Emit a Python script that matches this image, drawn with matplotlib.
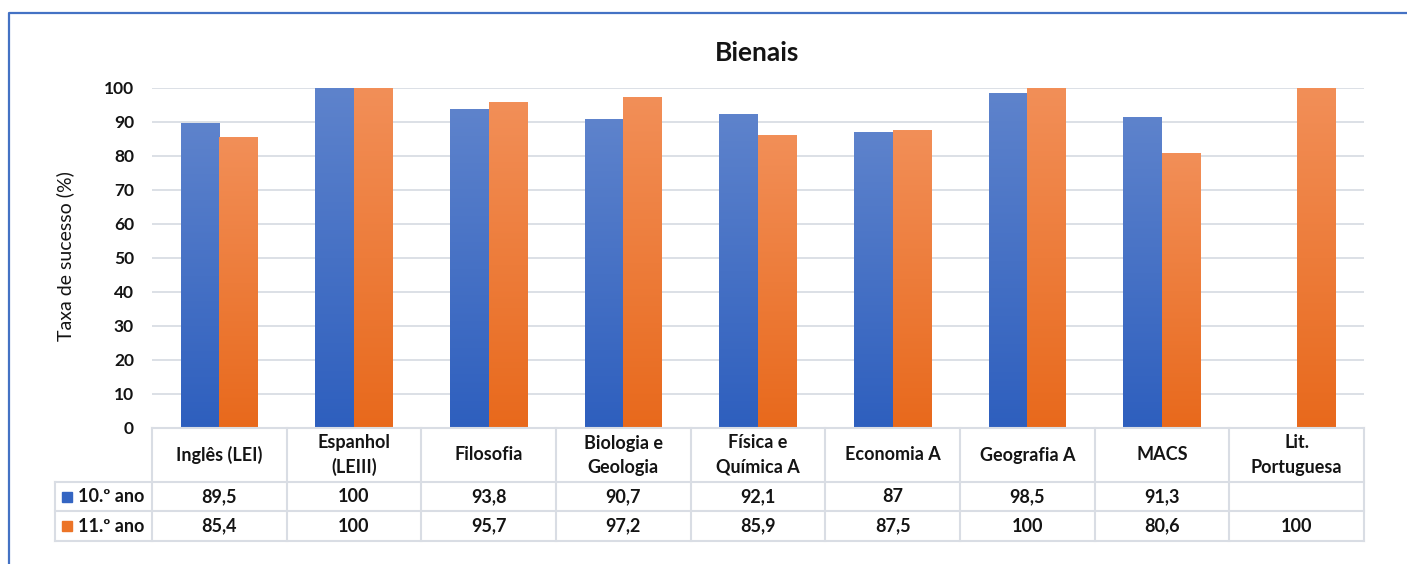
import numpy as np
import matplotlib.pyplot as plt
from matplotlib.colors import LinearSegmentedColormap
from matplotlib.lines import Line2D

plt.rcParams['font.family'] = ['Lato', 'DejaVu Sans']

disciplinas = ['Inglês (LEI)', 'Espanhol\n(LEIII)', 'Filosofia', 'Biologia e\nGeologia',
               'Física e\nQuímica A', 'Economia A', 'Geografia A', 'MACS', 'Lit.\nPortuguesa']
ano10 = [89.5, 100, 93.8, 90.7, 92.1, 87, 98.5, 91.3, None]
ano11 = [85.4, 100, 95.7, 97.2, 85.9, 87.5, 100, 80.6, 100]
series = ['10.º ano', '11.º ano']
yticks = list(range(0, 101, 10))

W, H = 1407, 564
fig = plt.figure(figsize=(W / 100, H / 100), dpi=100)


def box(x0, y0, x1, y1):
    # pixel box (top-left origin) -> figure fraction rect
    return [x0 / W, 1 - y1 / H, (x1 - x0) / W, (y1 - y0) / H]


def fmt(v):
    if v is None:
        return ''
    if v == int(v):
        return str(int(v))
    return f'{v:.1f}'.replace('.', ',')


blue = LinearSegmentedColormap.from_list('b', ['#2e5fbe', '#5e83cc'])
orange = LinearSegmentedColormap.from_list('o', ['#e8691c', '#f28f58'])
solid = ['#3465c2', '#ec7427']
grid_c = '#d9dde4'
txt_c = '#141414'
fs = 13

ax = fig.add_axes(box(152, 88, 1364, 428))
n = len(disciplinas)
w = 0.286
grad = np.linspace(0, 1, 256).reshape(-1, 1)
for vals, cmap, off in [(ano10, blue, -w / 2), (ano11, orange, w / 2)]:
    for i, v in enumerate(vals):
        if v is None:
            continue
        x0 = i + off - w / 2
        ax.imshow(grad, extent=(x0, x0 + w, 0, v), cmap=cmap, origin='lower',
                  aspect='auto', zorder=2, interpolation='bilinear')

ax.set_xlim(-0.5, n - 0.5)
ax.set_ylim(0, 100)
ax.set_aspect('auto')
ax.set_xticks([])
ax.set_yticks(yticks)
ax.set_yticklabels([str(t) for t in yticks], fontsize=12.5, fontweight='bold', color=txt_c)
ax.tick_params(axis='y', length=0, pad=13)
for t in yticks[1:]:
    ax.axhline(t, color=grid_c, lw=1.3, zorder=1)
for s in ax.spines.values():
    s.set_visible(False)

# data table under the plot
unit = 1212 / n
left = -0.5 - 97 / unit
tab = fig.add_axes(box(55, 428, 1364, 541))
tab.set_xlim(left, n - 0.5)
tab.set_ylim(113, 0)
tab.axis('off')
kw = dict(color=grid_c, lw=1.5, clip_on=False)
tab.plot([-0.5, n - 0.5], [0, 0], **kw)
for y in [54, 83, 113]:
    tab.plot([left, n - 0.5], [y, y], **kw)
for k in range(n + 1):
    tab.plot([-0.5 + k, -0.5 + k], [0, 113], **kw)
tab.plot([left, left], [54, 113], **kw)

for i, d in enumerate(disciplinas):
    tab.text(i, 27, d, ha='center', va='center', fontsize=fs, fontweight='bold',
             color=txt_c, linespacing=1.5)
    tab.text(i, 68.5, fmt(ano10[i]), ha='center', va='center', fontsize=fs,
             fontweight='bold', color=txt_c)
    tab.text(i, 98, fmt(ano11[i]), ha='center', va='center', fontsize=fs,
             fontweight='bold', color=txt_c)

for y, name, c in [(68.5, series[0], solid[0]), (98, series[1], solid[1])]:
    tab.plot([left + 12 / unit], [y], marker='s', ms=7, color=c, clip_on=False)
    tab.text(left + 23 / unit, y, name, ha='left', va='center', fontsize=fs,
             fontweight='bold', color=txt_c)

fig.text(757 / W, 1 - 53 / H, 'Bienais', ha='center', va='center', fontsize=19,
         fontweight='bold', color=txt_c)
fig.text(65 / W, 1 - 256 / H, 'Taxa de sucesso (%)', ha='center', va='center',
         rotation=90, fontsize=14, color=txt_c)

# frame around the chart
fig.add_artist(Line2D([9 / W, 9 / W, 1], [0, 1 - 12.5 / H, 1 - 12.5 / H],
                      color='#4472c4', lw=1.6, transform=fig.transFigure))

fig.savefig('out.png', dpi=100)
